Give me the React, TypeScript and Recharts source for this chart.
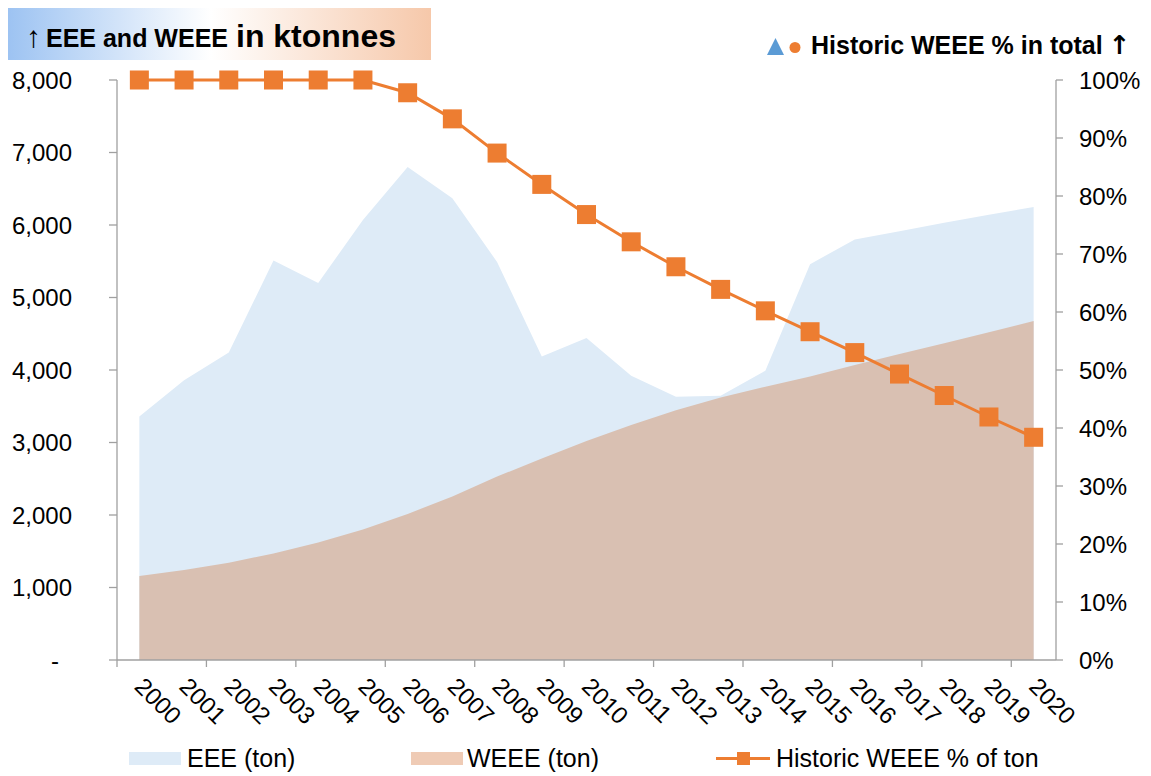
import React from "react";
import { ComposedChart, Area, Line, XAxis, YAxis } from "recharts";

const years = [
  "2000", "2001", "2002", "2003", "2004", "2005", "2006", "2007", "2008", "2009", "2010",
  "2011", "2012", "2013", "2014", "2015", "2016", "2017", "2018", "2019", "2020",
];

// ktonnes
const eee = [
  3360, 3860, 4240, 5510, 5200, 6070, 6800, 6370, 5490, 4185, 4440,
  3920, 3630, 3645, 3990, 5460, 5800, 5915, 6030, 6140, 6250,
];
const weee = [
  1160, 1240, 1340, 1470, 1620, 1800, 2015, 2255, 2530, 2780, 3020,
  3240, 3445, 3620, 3770, 3910, 4070, 4220, 4370, 4520, 4675,
];
// share of historic WEEE in total
const historicPct = [
  1.0, 1.0, 1.0, 1.0, 1.0, 1.0, 0.978, 0.933, 0.874, 0.82, 0.768,
  0.721, 0.678, 0.639, 0.602, 0.566, 0.53, 0.493, 0.456, 0.419, 0.384,
];

const leftTicks = [0, 1000, 2000, 3000, 4000, 5000, 6000, 7000, 8000];
const rightTicks = [0, 0.1, 0.2, 0.3, 0.4, 0.5, 0.6, 0.7, 0.8, 0.9, 1.0];

const data = years.map((year, i) => ({
  year,
  eee: eee[i],
  weee: weee[i],
  pct: historicPct[i],
}));

const FONT = '"Liberation Sans", Arial, sans-serif';
const AXIS = "#a0a0a0";
const ORANGE = "#ed7d31";
const BLUE = "#5b9bd5";
const EEE_FILL = "#deebf7";
const WEEE_FILL = "#d9c0b2";

const PLOT_LEFT = 117;
const PLOT_RIGHT = 1056;
const BAND = (PLOT_RIGHT - PLOT_LEFT) / years.length;

const LeftTick = (props: any) => {
  const { x, y, payload } = props;
  const isZero = payload.value === 0;
  return (
    <text
      x={isZero ? x - 13 : x}
      y={y}
      dy="0.355em"
      textAnchor="end"
      fontSize={24}
      fontFamily={FONT}
      fill="#000"
    >
      {isZero ? "-" : payload.value.toLocaleString("en-US")}
    </text>
  );
};

const RightTick = (props: any) => {
  const { x, y, payload } = props;
  return (
    <text x={x} y={y} dy="0.355em" textAnchor="start" fontSize={24} fontFamily={FONT} fill="#000">
      {`${Math.round(payload.value * 100)}%`}
    </text>
  );
};

const YearTick = (props: any) => {
  const { x, y, payload, index } = props;
  const tx = x - 6;
  const ty = y + 28;
  return (
    <g>
      {index % 2 === 0 && (
        <line x1={x - BAND / 2} x2={x - BAND / 2} y1={y} y2={y + 7} stroke={AXIS} strokeWidth={1.3} />
      )}
      <text
        x={tx}
        y={ty}
        transform={`rotate(45, ${tx}, ${ty})`}
        textAnchor="start"
        fontSize={24}
        fontFamily={FONT}
        fill="#000"
      >
        {payload.value}
      </text>
    </g>
  );
};

const SquareDot = (props: any) => {
  const { cx, cy, index } = props;
  return <rect key={`sq-${index}`} x={cx - 9.5} y={cy - 9.5} width={19} height={19} fill={ORANGE} />;
};

export default function App() {
  return (
    <div
      style={{
        position: "relative",
        width: 1151,
        height: 776,
        margin: "-8px 0 0 -8px",
        background: "#fff",
        fontFamily: FONT,
        color: "#000",
      }}
    >
      <ComposedChart width={1151} height={776} data={data} margin={{ top: 80, right: 0, bottom: 0, left: 0 }}>
        <XAxis
          dataKey="year"
          scale="band"
          interval={0}
          height={116}
          tickLine={false}
          tickSize={0}
          tickMargin={0}
          tick={<YearTick />}
          axisLine={{ stroke: AXIS, strokeWidth: 1.3 }}
        />
        <YAxis
          yAxisId="left"
          width={117}
          domain={[0, 8000]}
          ticks={leftTicks}
          interval={0}
          tickSize={8}
          tickMargin={37}
          tick={<LeftTick />}
          tickLine={{ stroke: AXIS, strokeWidth: 1.3 }}
          axisLine={{ stroke: AXIS, strokeWidth: 1.3 }}
        />
        <YAxis
          yAxisId="right"
          orientation="right"
          width={95}
          domain={[0, 1]}
          ticks={rightTicks}
          interval={0}
          tickSize={7}
          tickMargin={16}
          tick={<RightTick />}
          tickLine={{ stroke: AXIS, strokeWidth: 1.3 }}
          axisLine={{ stroke: AXIS, strokeWidth: 1.3 }}
        />
        <Area
          yAxisId="left"
          type="linear"
          dataKey="eee"
          name="EEE (ton)"
          fill={EEE_FILL}
          fillOpacity={1}
          stroke="none"
          isAnimationActive={false}
        />
        <Area
          yAxisId="left"
          type="linear"
          dataKey="weee"
          name="WEEE (ton)"
          fill={WEEE_FILL}
          fillOpacity={1}
          stroke="none"
          isAnimationActive={false}
        />
        <Line
          yAxisId="right"
          type="linear"
          dataKey="pct"
          name="Historic WEEE % of ton"
          stroke={ORANGE}
          strokeWidth={3}
          dot={SquareDot}
          activeDot={false}
          isAnimationActive={false}
        />
      </ComposedChart>

      {/* title boxes */}
      <div
        style={{
          position: "absolute",
          left: 8,
          top: 8,
          width: 423,
          height: 52,
          background: "linear-gradient(90deg, #9dc3f2 0%, #ffffff 48%, #f6c8aa 100%)",
          lineHeight: "56px",
          whiteSpace: "nowrap",
        }}
      >
        <span style={{ marginLeft: 18, fontSize: 30 }}>↑</span>
        <span style={{ fontSize: 25, fontWeight: "bold", marginLeft: 5 }}>EEE and WEEE</span>
        <span style={{ fontSize: 32, fontWeight: "bold", marginLeft: 8 }}>in ktonnes</span>
      </div>
      <svg style={{ position: "absolute", left: 764, top: 36 }} width={40} height={22}>
        <polygon points="3,19 20,19 11.5,2" fill={BLUE} />
        <circle cx={31} cy={11.5} r={5.5} fill={ORANGE} />
      </svg>
      <div
        style={{
          position: "absolute",
          left: 811,
          top: 28,
          lineHeight: "34px",
          whiteSpace: "nowrap",
          fontSize: 25,
          fontWeight: "bold",
        }}
      >
        Historic WEEE % in total
        <span style={{ fontFamily: '"DejaVu Sans", sans-serif', fontSize: 26, marginLeft: 6 }}>↑</span>
      </div>

      {/* legend */}
      <div style={{ position: "absolute", left: 129, top: 752, width: 52, height: 13, background: EEE_FILL }} />
      <div style={{ position: "absolute", left: 187, top: 745, fontSize: 25, lineHeight: "26px" }}>EEE (ton)</div>
      <div style={{ position: "absolute", left: 411, top: 752, width: 52, height: 13, background: "#efcbb5" }} />
      <div style={{ position: "absolute", left: 467, top: 745, fontSize: 25, lineHeight: "26px" }}>WEEE (ton)</div>
      <div style={{ position: "absolute", left: 716, top: 757, width: 54, height: 3, background: ORANGE }} />
      <div style={{ position: "absolute", left: 737, top: 752, width: 13, height: 13, background: ORANGE }} />
      <div style={{ position: "absolute", left: 776, top: 745, fontSize: 25, lineHeight: "26px" }}>
        Historic WEEE % of ton
      </div>
    </div>
  );
}
